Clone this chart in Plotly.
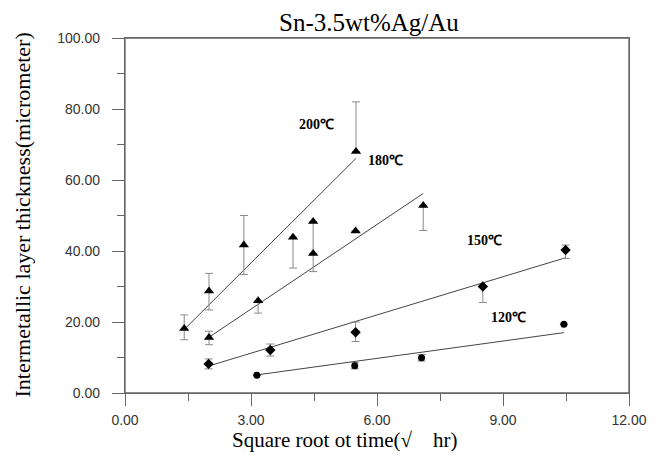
import plotly.graph_objects as go

# ---- data ----
x200 = [1.41, 2.0, 2.83, 4.0, 4.48, 5.5]
y200 = [18.2, 28.7, 41.7, 43.9, 48.3, 68.0]
e200_up = [3.8, 5.0, 8.3, 0, 0, 14.0]
e200_dn = [3.2, 5.3, 8.3, 8.7, 9.0, 0]

x180 = [2.0, 3.17, 4.48, 5.49, 7.1]
y180 = [15.6, 26.0, 39.3, 45.6, 52.8]
e180_up = [1.8, 0, 0, 0, 0]
e180_dn = [2.0, 3.5, 5.1, 0, 7.0]

x150 = [1.99, 3.46, 5.49, 8.52, 10.49]
y150 = [8.2, 12.1, 17.1, 30.0, 40.3]
e150_up = [1.4, 1.7, 2.9, 0, 1.4]
e150_dn = [1.4, 1.7, 2.6, 4.5, 2.4]

x120 = [3.14, 5.47, 7.06, 10.45]
y120 = [5.0, 7.7, 9.9, 19.4]
e120_up = [0, 0.9, 0.9, 0]
e120_dn = [0, 0.9, 0.9, 0]

fit200_x, fit200_y = [1.41, 5.5], [17.9, 66.1]
fit180_x, fit180_y = [2.0, 7.1], [15.7, 56.2]
fit150_x, fit150_y = [2.02, 10.49], [7.7, 38.1]
fit120_x, fit120_y = [3.14, 10.45], [5.1, 17.0]

label_text = ["200℃", "180℃", "150℃", "120℃"]
label_x = [4.55, 6.2, 8.55, 9.12]
label_y = [75.5, 65.6, 43.1, 21.4]

x_tickvals = [0, 3, 6, 9, 12]
x_ticktext = ["0.00", "3.00", "6.00", "9.00", "12.00"]
y_tickvals = [0, 20, 40, 60, 80, 100]
y_ticktext = ["0.00", "20.00", "40.00", "60.00", "80.00", "100.00"]

title_text = "Sn-3.5wt%Ag/Au"
x_title = "Square root ot time(√\u00a0\u00a0\u00a0\u00a0hr)"
y_title = "Intermetallic layer thickness(micrometer)"

fig = go.Figure()

line_style = dict(color="#444444", width=1)
for fx, fy in [(fit200_x, fit200_y), (fit180_x, fit180_y),
               (fit150_x, fit150_y), (fit120_x, fit120_y)]:
    fig.add_trace(go.Scatter(x=fx, y=fy, mode="lines", line=line_style,
                             showlegend=False, hoverinfo="skip"))

err_style = dict(type="data", symmetric=False, color="#8a8a8a",
                 thickness=1, width=4)
series = [
    (x200, y200, e200_up, e200_dn, "triangle-up", 9),
    (x180, y180, e180_up, e180_dn, "triangle-up", 9),
    (x150, y150, e150_up, e150_dn, "diamond", 8),
    (x120, y120, e120_up, e120_dn, "circle", 7),
]
for sx, sy, up, dn, sym, sz in series:
    fig.add_trace(go.Scatter(
        x=sx, y=sy, mode="markers",
        marker=dict(symbol=sym, size=sz, color="black"),
        error_y=dict(array=up, arrayminus=dn, **err_style),
        showlegend=False))

for t, lx, ly in zip(label_text, label_x, label_y):
    fig.add_annotation(x=lx, y=ly, text=f"<b>{t}</b>", showarrow=False,
                       font=dict(family="Liberation Serif", size=14, color="black"))

W_PLOT = 504
fig.add_annotation(xref="paper", yref="paper", x=(369 - 125) / W_PLOT, y=1.0,
                   yshift=16, yanchor="middle", text=title_text, showarrow=False,
                   font=dict(family="Liberation Serif", size=25, color="black"))
fig.add_annotation(xref="x", yref="paper", x=(345 - 125) / 42, y=0,
                   yshift=-47, yanchor="middle", text=x_title, showarrow=False,
                   font=dict(family="Liberation Serif", size=21, color="black"))
fig.add_annotation(xref="paper", yref="paper", x=(22 - 125) / W_PLOT, y=0.5,
                   text=y_title, textangle=-90, showarrow=False,
                   xanchor="center", yanchor="middle",
                   font=dict(family="Liberation Serif", size=22, color="black"))

fig.add_shape(type="rect", xref="paper", yref="paper", x0=0, y0=0, x1=1, y1=1,
              line=dict(color="#666666", width=1.3), layer="above")

axis_common = dict(showline=True, linecolor="#666666", linewidth=1.3,
                   mirror=True, showgrid=False, zeroline=False, automargin=False,
                   ticks="outside", ticklen=12, tickcolor="#666666",
                   tickfont=dict(family="Liberation Sans", size=14, color="#333333"))

fig.update_xaxes(range=[0, 12], tickvals=x_tickvals, ticktext=x_ticktext,
                 minor=dict(dtick=1.5, tick0=0, ticks="outside", ticklen=7,
                            tickcolor="#666666"),
                 ticklabelstandoff=2, **axis_common)
fig.update_yaxes(range=[0, 100], tickvals=y_tickvals, ticktext=y_ticktext,
                 minor=dict(dtick=10, tick0=0, ticks="outside", ticklen=7,
                            tickcolor="#666666"),
                 ticklabelstandoff=9, **axis_common)

fig.update_layout(width=660, height=461,
                  margin=dict(l=125, r=31, t=38, b=68),
                  paper_bgcolor="white", plot_bgcolor="white")

fig.write_html("out.html", config={"displayModeBar": False},
               post_script="document.body.style.margin='0';document.body.style.padding='0';")
